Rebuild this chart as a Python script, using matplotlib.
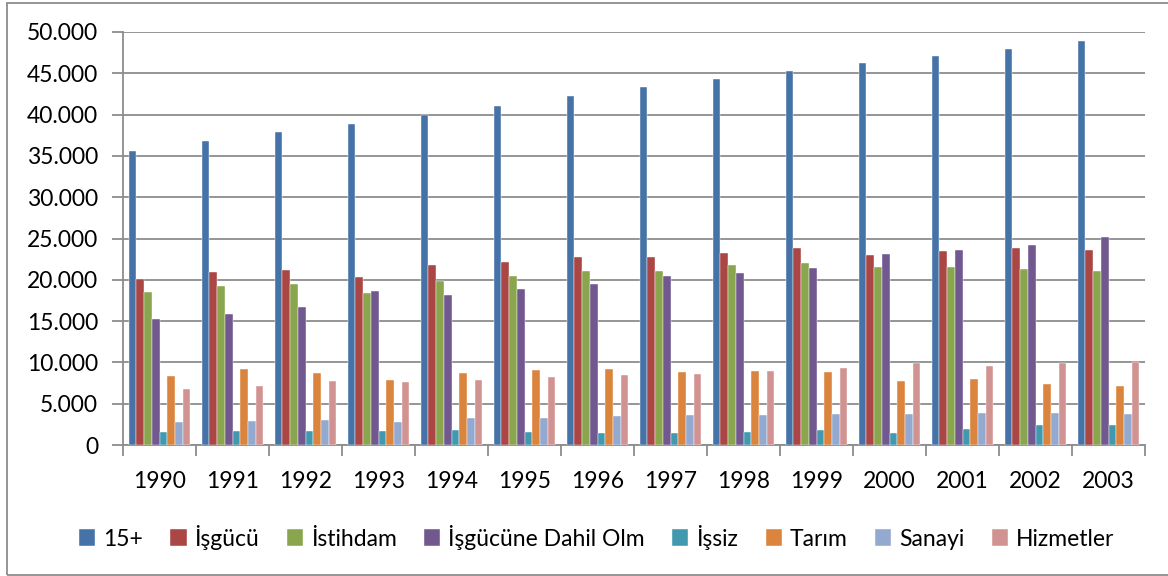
import numpy as np
import matplotlib
matplotlib.use('Agg')
import matplotlib.pyplot as plt
from matplotlib.patches import Rectangle
from matplotlib.ticker import FuncFormatter, FixedLocator

plt.rcParams['font.family'] = ['Lato', 'DejaVu Sans']

years = ['1990', '1991', '1992', '1993', '1994', '1995', '1996',
         '1997', '1998', '1999', '2000', '2001', '2002', '2003']

# values in thousands of persons
pop15      = [35550, 36800, 37900, 38900, 39950, 41100, 42200,
              43300, 44250, 45250, 46200, 47100, 48000, 48900]
isgucu     = [20100, 20900, 21200, 20300, 21800, 22200, 22700,
              22700, 23300, 23800, 23000, 23450, 23800, 23600]
istihdam   = [18500, 19250, 19450, 18400, 19900, 20500, 21100,
              21100, 21750, 22000, 21550, 21500, 21300, 21100]
dahil_olm  = [15300, 15800, 16700, 18600, 18100, 18850, 19500,
              20450, 20800, 21400, 23100, 23650, 24200, 25200]
issiz      = [1530, 1650, 1730, 1730, 1800, 1600, 1400,
              1500, 1530, 1770, 1400, 1900, 2380, 2420]
tarim      = [8400, 9150, 8680, 7830, 8750, 9040, 9240,
              8800, 9000, 8800, 7700, 8000, 7400, 7150]
sanayi     = [2780, 2900, 3060, 2820, 3270, 3270, 3470,
              3630, 3670, 3700, 3750, 3900, 3900, 3800]
hizmetler  = [6820, 7100, 7780, 7630, 7870, 8200, 8440,
              8600, 9000, 9320, 9930, 9600, 9900, 10100]

series = [pop15, isgucu, istihdam, dahil_olm, issiz, tarim, sanayi, hizmetler]
labels = ['15+', 'İşgücü', 'İstihdam', 'İşgücüne Dahil Olm', 'İşsiz',
          'Tarım', 'Sanayi', 'Hizmetler']
colors = ['#4572A7', '#AA4643', '#89A54E', '#71588F', '#4198AF',
          '#DB843D', '#93A9CF', '#D19392']

W, H = 1168, 576
fs = 16.5
fig = plt.figure(figsize=(W/100, H/100), dpi=100)
ax = fig.add_axes([123/W, 1-445/H, (1145-123)/W, (445-32)/H])

x = np.arange(len(years))
n = len(series)
bw = 0.845 / n
for i, (vals, lab, col) in enumerate(zip(series, labels, colors)):
    ax.bar(x - 0.845/2 + bw*(i+0.5), vals, bw, color=col, label=lab,
           edgecolor='white', linewidth=0.3, zorder=3)

ax.set_xlim(-0.5, len(years)-0.5)
ax.set_ylim(0, 50000)
ax.set_yticks(np.arange(0, 50001, 5000))
ax.yaxis.set_major_formatter(FuncFormatter(
    lambda v, p: '0' if v == 0 else f'{int(v):,}'.replace(',', '.')))
ax.grid(axis='y', color='#8c8c8c', linewidth=1.3, zorder=0)
ax.set_axisbelow(True)

ax.xaxis.set_major_locator(FixedLocator(np.arange(-0.5, len(years), 1)))
ax.xaxis.set_major_formatter(FuncFormatter(lambda v, p: ''))
ax.xaxis.set_minor_locator(FixedLocator(x))
ax.set_xticks(x, years, minor=True)
ax.tick_params(axis='x', which='major', length=8, width=1.3, color='#8c8c8c')
ax.tick_params(axis='x', which='minor', length=0, pad=19, labelsize=fs)
ax.tick_params(axis='y', length=8, width=1.3, color='#8c8c8c',
               labelsize=fs, pad=10)

for s in ['top', 'right']:
    ax.spines[s].set_visible(False)
for s in ['left', 'bottom']:
    ax.spines[s].set_color('#8c8c8c')
    ax.spines[s].set_linewidth(1.3)

fig.legend(loc='center', bbox_to_anchor=(0.511, 1-537/H), ncol=8,
           frameon=False, fontsize=fs, handlelength=0.7, handleheight=0.7,
           handletextpad=0.35, columnspacing=1.2)

fig.patches.append(Rectangle((7/W, 1/H), 1.2, 1-4/H, transform=fig.transFigure,
                             fill=False, edgecolor='#8c8c8c', linewidth=1.3))

fig.savefig('out.png', dpi=100)
